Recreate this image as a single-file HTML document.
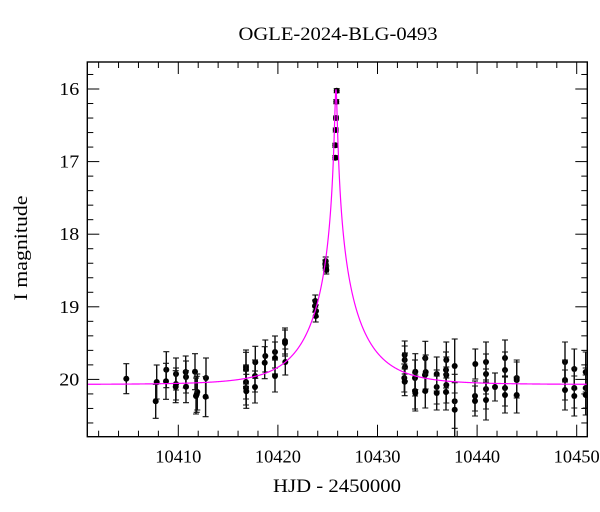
<!DOCTYPE html>
<html><head><style>html,body{margin:0;padding:0;background:#fff}svg{display:block}</style></head>
<body>
<svg id="s" width="600" height="512" xmlns="http://www.w3.org/2000/svg" font-family="Liberation Serif, serif">
<text x="338" y="40" font-size="19" text-anchor="middle" textLength="199" lengthAdjust="spacingAndGlyphs">OGLE-2024-BLG-0493</text>
<text x="337" y="492" font-size="19" text-anchor="middle" textLength="128" lengthAdjust="spacingAndGlyphs">HJD - 2450000</text>
<text transform="translate(27,248) rotate(-90)" font-size="19" text-anchor="middle" textLength="105" lengthAdjust="spacingAndGlyphs">I magnitude</text>
</svg>
<script>
const s=document.getElementById('s');const NS='http://www.w3.org/2000/svg';
function el(t,a){const e=document.createElementNS(NS,t);for(const k in a)e.setAttribute(k,a[k]);s.appendChild(e);return e;}
const L=87.3,R=587.3,T=62,B=436.7;
const X=t=>178.3+(t-10410)*9.96, Y=m=>89+(m-16)*72.6;
const t0=10425.83,u0=0.0236,tE=5.0,base=20.07;
let d='';
for(let px=L;px<=R;px+=0.25){const t=10410+(px-178.3)/9.96;const u=Math.sqrt(u0*u0+((t-t0)/tE)**2);const A=(u*u+2)/(u*Math.sqrt(u*u+4));const m=base-2.5*Math.log10(A);d+=(d?'L':'M')+px.toFixed(2)+' '+Y(m).toFixed(2);}
const cp=el('clipPath',{id:'c'});const r=document.createElementNS(NS,'rect');r.setAttribute('x',L);r.setAttribute('y',T);r.setAttribute('width',R-L);r.setAttribute('height',B-T);cp.appendChild(r);
const pts=[[126.3,378.7,15],[156.7,382,17],[155.7,401.3,17],[166.3,369.7,18],[166,381.3,18],[176,374,16],[176,384,16],[175.7,386.7,16],[186,377,16],[185.7,372,16],[186,386.7,16],[195,371.7,18],[197.3,392,18],[196.7,394.3,18],[196,396,18],[206,378,20],[205.6,396.7,20],
[246,367,17],[246,369.3,17],[246,382,17],[246,388,17],[246.3,391.3,17],[255.3,362.3,16],[255,376,16],[255,387,16],[265.3,356,16],[264.7,362.7,16],[275,352,16],[275,358,16],[275,376,16],[285,341,13],[285,343,13],[285.3,362,13],
[315.3,301,6],[315,306,6],[316,311,6],[315.7,316,6],[325.7,261,4],[325.3,264,4],[325.7,266,4],[326,268,4],[326.3,270,4],
[336.7,90.7,2],[336.3,101.7,2],[336,118,2],[335.7,130,2],[335.3,145.3,2],[335.3,157.7,2],
[404.7,355,14],[404.7,360,14],[405,367,14],[404.3,378,14],[404.7,381.7,14],[415.3,371.7,18],[415,378,18],[415,391,18],[415.3,393,18],[425.3,358.3,17],[425.7,372,17],[425,375,17],[425.3,391,17],[436.7,374,17],[436.7,387,17],[436.7,393,17],[446.3,360,18],[446,370,18],[446.3,375,18],[446.3,385,18],[446,392,18],[454.7,366,27],[454.7,401.3,27],[454.7,409.7,27],
[475.3,364,15],[475,396,15],[475,401,15],[486,362,20],[486,374,20],[486,389,20],[486,400,20],[495,387,14],[505,358,18],[505,370,18],[505,388,18],[505,395,18],[516.7,378,18],[516.7,380,18],[516.7,395,18],[565,362,20],[565,380,20],[565,390,20],[574.3,369,20],[574.3,388,20],[574.3,396,20],[585.7,372,20],[585.7,388,20],[585.7,395,20]];
const g=el('g',{'clip-path':'url(#c)'});
function add(t,a){const e=document.createElementNS(NS,t);for(const k in a)e.setAttribute(k,a[k]);g.appendChild(e);}
pts.forEach(p=>{const[x,y,e]=p;add('line',{x1:x,x2:x,y1:y-e,y2:y+e,stroke:'#111','stroke-width':1.4});add('line',{x1:x-3,x2:x+3,y1:y-e,y2:y-e,stroke:'#111','stroke-width':1.1});add('line',{x1:x-3,x2:x+3,y1:y+e,y2:y+e,stroke:'#111','stroke-width':1.1});add('circle',{cx:x,cy:y,r:3,fill:'#000'});});
add('path',{d:d,fill:'none',stroke:'#ff00ff','stroke-width':1.2});
el('rect',{x:L,y:T,width:R-L,height:B-T,fill:'none',stroke:'#000','stroke-width':1.4});
for(let t=10402;t<=10451;t+=2){const x=X(t);if(x<L||x>R)continue;const maj=t%10==0;const l=maj?12:6;
el('line',{x1:x,x2:x,y1:B,y2:B-l,stroke:'#000','stroke-width':1});el('line',{x1:x,x2:x,y1:T,y2:T+l,stroke:'#000','stroke-width':1});
if(maj){const tx=el('text',{x:x,y:B+26,'font-size':18,'text-anchor':'middle',textLength:46,lengthAdjust:'spacingAndGlyphs'});tx.textContent=t;}}
for(let i=0;i<=27;i++){const m=15.6+i*0.2;const y=Y(m);if(y<T||y>B)continue;const maj=Math.abs(m-Math.round(m))<1e-6;const l=maj?12:6;
el('line',{x1:L,x2:L+l,y1:y,y2:y,stroke:'#000','stroke-width':1});el('line',{x1:R,x2:R-l,y1:y,y2:y,stroke:'#000','stroke-width':1});
if(maj){const tx=el('text',{x:L-8,y:y+6,'font-size':18,'text-anchor':'end',textLength:20,lengthAdjust:'spacingAndGlyphs'});tx.textContent=Math.round(m);}}
</script>
</body></html>
